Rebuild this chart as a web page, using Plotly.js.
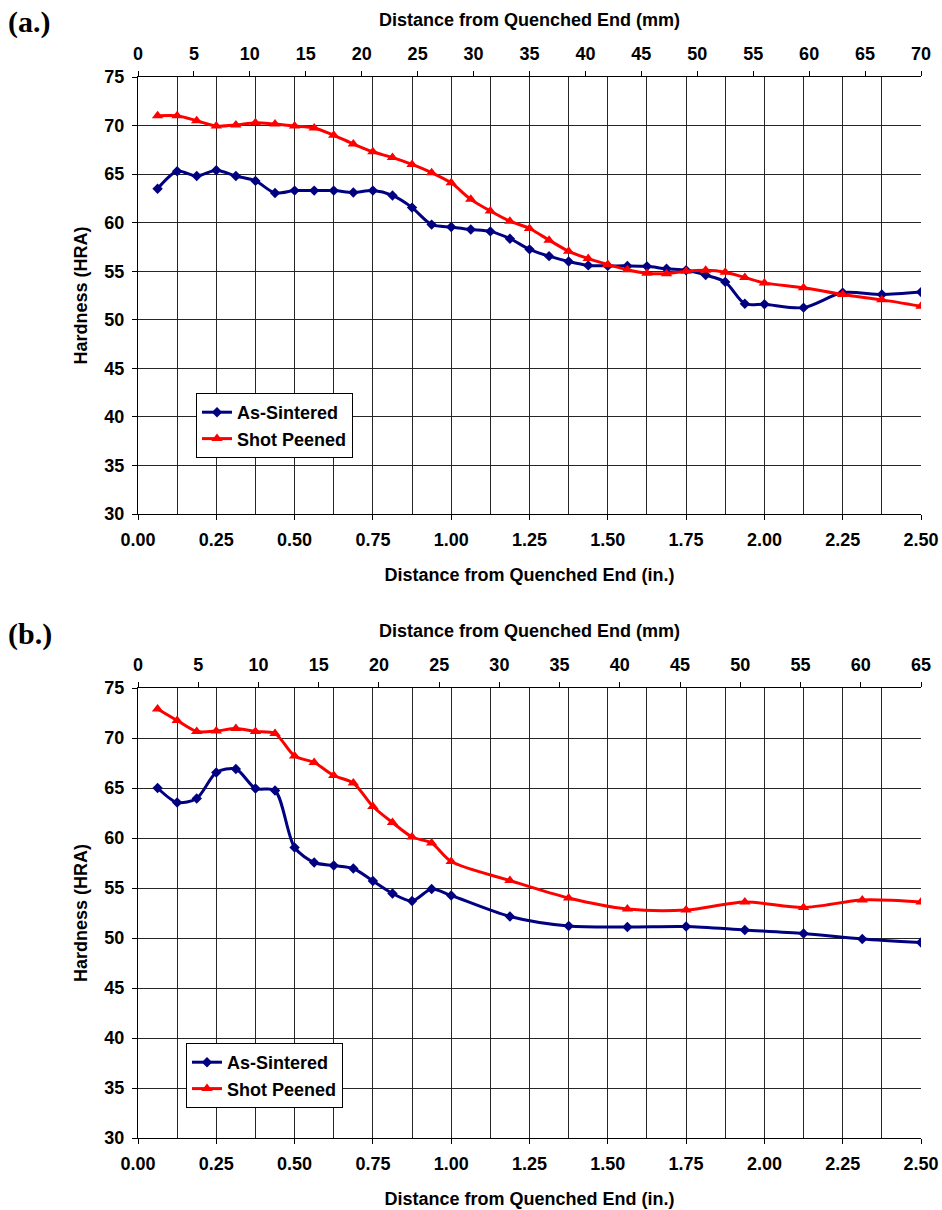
<!DOCTYPE html>
<html><head><meta charset="utf-8">
<script src="https://cdn.plot.ly/plotly-3.0.1.min.js"></script>
<style>html,body{margin:0;padding:0;background:#fff}</style>
</head><body><div id="chart" style="width:942px;height:1210px"></div>
<script>
// ---------- data: panel (a) ----------
const inchA = [0.0625,0.125,0.1875,0.25,0.3125,0.375,0.4375,0.5,0.5625,0.625,0.6875,0.75,0.8125,0.875,0.9375,1.0,
  1.0625,1.125,1.1875,1.25,1.3125,1.375,1.4375,1.5,1.5625,1.625,1.6875,1.75,1.8125,1.875,1.9375,2.0,2.125,2.25,2.375,2.5];
const asSinteredA = [63.5,65.3,64.8,65.4,64.8,64.3,63.05,63.3,63.3,63.3,63.1,63.3,62.8,61.55,59.8,59.55,
  59.3,59.1,58.35,57.25,56.55,56.0,55.6,55.55,55.55,55.5,55.25,55.1,54.6,53.9,51.65,51.6,51.25,52.8,52.6,52.85];
const shotPeenedA = [71.0,71.0,70.5,69.95,70.05,70.3,70.15,69.95,69.75,69.0,68.1,67.3,66.7,66.0,65.15,64.1,
  62.4,61.2,60.15,59.4,58.2,57.05,56.3,55.7,55.15,54.8,54.75,55.0,55.1,54.9,54.35,53.8,53.3,52.6,52.05,51.4];

// ---------- data: panel (b) ----------
const inchB = [0.0625,0.125,0.1875,0.25,0.3125,0.375,0.4375,0.5,0.5625,0.625,0.6875,0.75,0.8125,0.875,0.9375,1.0,
  1.1875,1.375,1.5625,1.75,1.9375,2.125,2.3125,2.5];
const asSinteredB = [65.0,63.55,63.95,66.55,66.9,64.95,64.75,59.05,57.55,57.25,56.95,55.7,54.45,53.7,54.9,54.25,
  52.15,51.2,51.1,51.15,50.8,50.45,49.9,49.55];
const shotPeenedB = [72.9,71.75,70.65,70.7,70.95,70.65,70.45,68.2,67.55,66.25,65.5,63.15,61.55,60.1,59.5,57.65,
  55.75,54.0,52.9,52.8,53.6,53.05,53.8,53.6];

const seriesNames = ['As-Sintered','Shot Peened'];
const panelLabels = ['(a.)','(b.)'];
const inchRange = [0, 2.5];
const mmRangeA = [0, 70];
const mmRangeB = [0, 65];
const hardRange = [30, 75];
const titleIn = 'Distance from Quenched End (in.)';
const titleMm = 'Distance from Quenched End (mm)';
const titleY = 'Hardness (HRA)';

// ---------- styling ----------
const W = 942, H = 1210;
const fx = p => p / W;
const fy = p => 1 - p / H;
const BLUE = '#000080', RED = '#FF0000', GRID = '#262626';
const FONT = {family:'"Liberation Sans", Arial, sans-serif', size:18, color:'#000', weight:'bold'};

function blueTrace(x, y, xa, ya, lg) {
  return {x, y, xaxis:xa, yaxis:ya, legend:lg, name:seriesNames[0], type:'scatter', mode:'lines+markers',
    line:{color:BLUE, width:3, shape:'spline', smoothing:0.8},
    marker:{symbol:'diamond', size:8, color:BLUE}};
}
function redTrace(x, y, xa, ya, lg) {
  return {x, y, xaxis:xa, yaxis:ya, legend:lg, name:seriesNames[1], type:'scatter', mode:'lines+markers',
    line:{color:RED, width:3, shape:'spline', smoothing:0.8},
    marker:{symbol:'triangle-up', size:10, color:RED}};
}
// empty carrier so the secondary (mm) axis is drawn; it has no points
function mmCarrier(rng, xa, ya) {
  return {x:rng, y:[null, null], xaxis:xa, yaxis:ya, type:'scatter', mode:'lines',
    showlegend:false, hoverinfo:'skip', line:{width:0}};
}

function bottomAxis(dom, anchor) {
  return {domain:dom, anchor, range:inchRange, tick0:0, dtick:0.25, tickformat:'.2f',
    showgrid:true, gridcolor:GRID, gridwidth:1,
    minor:{tick0:0, dtick:0.125, showgrid:true, gridcolor:GRID, gridwidth:1, ticks:''},
    showline:true, linecolor:'#000', linewidth:1, ticks:'outside', ticklen:5, tickcolor:'#000',
    tickfont:FONT, ticklabelstandoff:4, zeroline:false,
    title:{text:titleIn, font:FONT, standoff:19}};
}
function topAxis(over, anchor, rng) {
  return {overlaying:over, anchor, side:'top', range:rng, tick0:0, dtick:5,
    showgrid:false, showline:true, linecolor:'#000', linewidth:1, ticks:'outside', ticklen:5, tickcolor:'#000',
    tickfont:FONT, ticklabelstandoff:4, zeroline:false,
    title:{text:titleMm, font:FONT, standoff:12}};
}
function leftAxis(dom, anchor) {
  return {domain:dom, anchor, range:hardRange, tick0:30, dtick:5,
    showgrid:true, gridcolor:GRID, gridwidth:1,
    showline:true, linecolor:'#000', linewidth:1, ticks:'outside', ticklen:5, tickcolor:'#000',
    tickfont:FONT, ticklabelstandoff:4, zeroline:false,
    title:{text:titleY, font:FONT, standoff:12}};
}

const xDom = [fx(138), fx(921)];
const data = [
  mmCarrier(mmRangeA, 'x2', 'y'),
  mmCarrier(mmRangeB, 'x4', 'y2'),
  blueTrace(inchA, asSinteredA, 'x', 'y', 'legend'),
  redTrace(inchA, shotPeenedA, 'x', 'y', 'legend'),
  blueTrace(inchB, asSinteredB, 'x3', 'y2', 'legend2'),
  redTrace(inchB, shotPeenedB, 'x3', 'y2', 'legend2')
];

const legendStyle = {xanchor:'left', yanchor:'top', bgcolor:'#fff', bordercolor:'#000', borderwidth:1,
  font:FONT, tracegroupgap:0, itemwidth:30};

const layout = {
  width:W, height:H, autosize:false,
  margin:{l:0, r:0, t:0, b:0},
  paper_bgcolor:'#fff', plot_bgcolor:'#fff',
  font:FONT,
  xaxis: bottomAxis(xDom, 'y'),
  xaxis2: topAxis('x', 'y', mmRangeA),
  yaxis: leftAxis([fy(514), fy(77)], 'x'),
  xaxis3: bottomAxis(xDom, 'y2'),
  xaxis4: topAxis('x3', 'y2', mmRangeB),
  yaxis2: leftAxis([fy(1138), fy(688)], 'x3'),
  legend: Object.assign({x:fx(196), y:fy(393)}, legendStyle),
  legend2: Object.assign({x:fx(186), y:fy(1043)}, legendStyle),
  showlegend:true,
  annotations:[
    {text:panelLabels[0], xref:'paper', yref:'paper', x:fx(6), y:fy(22), xanchor:'left', yanchor:'middle',
     showarrow:false, font:{family:'"Liberation Serif", "Times New Roman", serif', size:30, color:'#000', weight:'bold'}},
    {text:panelLabels[1], xref:'paper', yref:'paper', x:fx(6), y:fy(634), xanchor:'left', yanchor:'middle',
     showarrow:false, font:{family:'"Liberation Serif", "Times New Roman", serif', size:30, color:'#000', weight:'bold'}}
  ]
};

Plotly.newPlot('chart', data, layout, {displayModeBar:false, staticPlot:true});
</script></body></html>
